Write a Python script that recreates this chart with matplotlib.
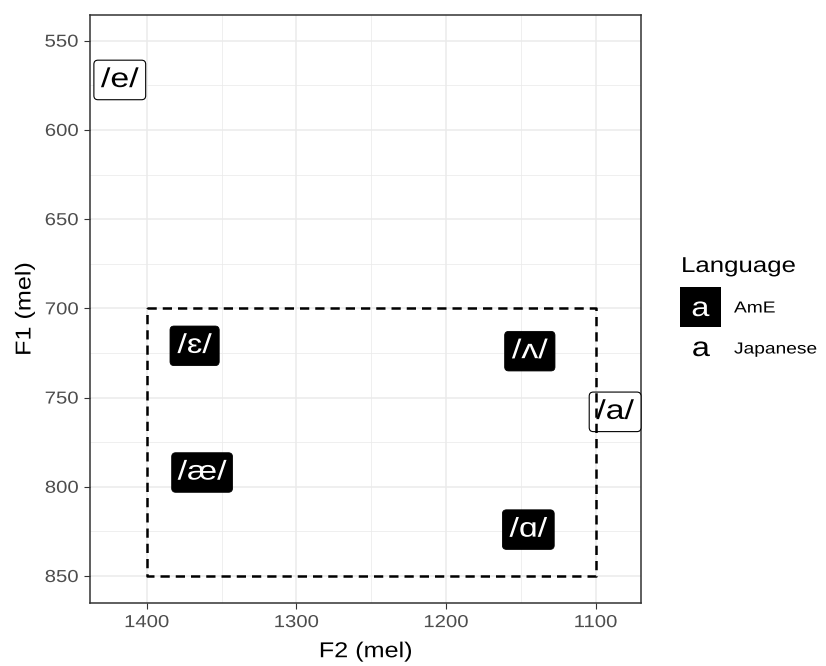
import numpy as np
import matplotlib
matplotlib.use('Agg')
import matplotlib.pyplot as plt
from matplotlib.patches import BoxStyle, Rectangle
from matplotlib.patheffects import AbstractPathEffect
from matplotlib.transforms import Affine2D

plt.rcParams['font.family'] = ['Liberation Sans', 'DejaVu Sans']

# vowel labels (F2 / F1 in mel)
vowels = ['/e/', '/a/', '/ɛ/', '/æ/', '/ʌ/', '/ɑ/']
language = ['Japanese', 'Japanese', 'AmE', 'AmE', 'AmE', 'AmE']
f2 = [1418, 1087, 1368, 1363, 1144, 1145]
f1 = [572, 758, 721, 792, 724, 824]

# dashed region
region_f2 = [1400, 1100]
region_f1 = [700, 850]

x_ticks = [1400, 1300, 1200, 1100]
y_ticks = [550, 600, 650, 700, 750, 800, 850]

W, H = 826, 666


def fx(px):
    return px / W


def fy(py):
    return 1 - py / H


class Stretch(AbstractPathEffect):
    # widen glyphs along the text direction (the reference font runs wider than Arial)
    def __init__(self, sx=1.2, anchor='center'):
        super().__init__()
        self.sx = sx
        self.anchor = anchor

    def draw_path(self, renderer, gc, tpath, affine, rgbFace=None):
        ext = tpath.get_extents()
        a = {'left': 0.0, 'center': (ext.x0 + ext.x1) / 2, 'right': ext.x1}[self.anchor]
        pre = Affine2D().translate(-a, 0).scale(self.sx, 1).translate(a, 0)
        renderer.draw_path(gc, tpath, pre + affine, rgbFace)


def label_box(hpad, vpad, r):
    # rounded box with separate horizontal / vertical padding (fraction of font size)
    base = BoxStyle.Round(pad=0, rounding_size=r)

    def style(x0, y0, width, height, mutation_size):
        hp = hpad * mutation_size
        vp = vpad * mutation_size
        return base(x0 - hp, y0 - vp, width + 2 * hp, height + 2 * vp, mutation_size)
    return style


fig = plt.figure(figsize=(W / 100, H / 100), dpi=100)
ax = fig.add_axes([fx(90.3), fy(603.3), fx(641) - fx(90.3), fy(15) - fy(603.3)])

ax.set_xlim(1437.7, 1069.7)
ax.set_ylim(865.3, 535.6)
ax.set_xticks(x_ticks)
ax.set_yticks(y_ticks)
ax.set_xticks([1350, 1250, 1150], minor=True)
ax.set_yticks(np.array(y_ticks[:-1]) + 25, minor=True)
ax.grid(which='major', color='#EBEBEB', linewidth=1.1)
ax.grid(which='minor', color='#EBEBEB', linewidth=0.55)
ax.set_axisbelow(True)
ax.tick_params(which='major', length=4, width=0.8, color='#333333',
               labelcolor='#4D4D4D', labelsize=12.5, pad=4.5)
ax.tick_params(which='minor', length=0)
for s in ax.spines.values():
    s.set_color('#333333')
    s.set_linewidth(1.1)
for t in ax.get_xticklabels():
    t.set_path_effects([Stretch(1.17, 'center')])
for t in ax.get_yticklabels():
    t.set_path_effects([Stretch(1.17, 'right')])

box = label_box(0.4, 0.25, 0.15)
for v, lang, x, y in zip(vowels, language, f2, f1):
    if lang == 'AmE':
        fc, tc, lw = 'black', 'white', 0.6
    else:
        fc, tc, lw = 'white', 'black', 0.8
    ax.text(x, y, v, ha='center', va='center', fontsize=19.5, color=tc, zorder=3,
            path_effects=[Stretch(1.25)],
            bbox=dict(boxstyle=box, facecolor=fc, edgecolor='black', linewidth=lw))

ax.plot([region_f2[0], region_f2[1], region_f2[1], region_f2[0], region_f2[0]],
        [region_f1[0], region_f1[0], region_f1[1], region_f1[1], region_f1[0]],
        color='black', linewidth=1.8, linestyle=(0, (3.7, 2.4)), zorder=4)

ax.set_xlabel('F2 (mel)', fontsize=15.5, labelpad=8, path_effects=[Stretch(1.17)])
ax.set_ylabel('F1 (mel)', fontsize=15.5, labelpad=10, path_effects=[Stretch(1.17)])

# legend
left = [Stretch(1.2, 'left')]
fig.text(fx(681), fy(272), 'Language', fontsize=15.5, ha='left', va='baseline', path_effects=left)
fig.add_artist(Rectangle((fx(680), fy(327)), fx(41), 40 / H, transform=fig.transFigure,
                         facecolor='black', edgecolor='none'))
fig.text(fx(700.5), fy(309), 'a', fontsize=19.5, color='white', ha='center', va='center',
         path_effects=[Stretch(1.2)])
fig.text(fx(701), fy(349), 'a', fontsize=19.5, color='black', ha='center', va='center',
         path_effects=[Stretch(1.2)])
fig.text(fx(734), fy(308), 'AmE', fontsize=11.5, ha='left', va='center', path_effects=left)
fig.text(fx(734), fy(349), 'Japanese', fontsize=11.5, ha='left', va='center', path_effects=left)

fig.savefig('out.png', dpi=100)
